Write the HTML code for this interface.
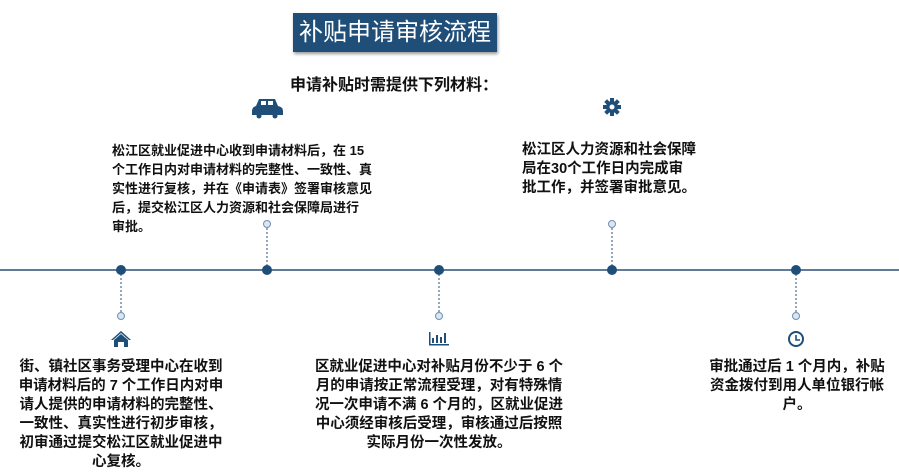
<!DOCTYPE html>
<html><head><meta charset="utf-8"><style>
body{margin:0;width:899px;height:475px;background:#fff;position:relative;overflow:hidden;font-family:"Liberation Sans","Noto Sans CJK SC",sans-serif;}
.t{position:absolute;font-weight:bold;color:#111;white-space:nowrap;line-height:19px;}
.title{position:absolute;left:293px;top:13px;width:204px;height:39px;background:#1f4e79;color:#fff;font-size:24px;text-align:center;line-height:39px;white-space:nowrap;box-shadow:1px 2px 3px rgba(0,0,0,.4);}
</style></head><body>
<div class="title">补贴申请审核流程</div>
<div class="t" style="left:290px;top:76px;width:204px;text-align:center;font-size:16px;">申请补贴时需提供下列材料：</div>
<svg width="899" height="475" style="position:absolute;left:0;top:0">
<line x1="0" y1="270" x2="899" y2="270" stroke="#2b4f78" stroke-width="1.5"/>
<g stroke="#2b4f78" stroke-width="1" stroke-dasharray="2,2">
<line x1="267" y1="228" x2="267" y2="270"/><line x1="612" y1="228" x2="612" y2="270"/>
<line x1="121" y1="270" x2="121" y2="312"/><line x1="439" y1="270" x2="439" y2="312"/><line x1="796" y1="270" x2="796" y2="312"/>
</g>
<g fill="#1f4e79"><circle cx="121" cy="270" r="5"/><circle cx="267" cy="270" r="5"/><circle cx="439" cy="270" r="5"/><circle cx="612" cy="270" r="5"/><circle cx="796" cy="270" r="5"/></g>
<g fill="#dbe6f2" stroke="#6f8fb3" stroke-width="1"><circle cx="267" cy="224" r="3.5"/><circle cx="612" cy="224" r="3.5"/><circle cx="121" cy="316" r="3.5"/><circle cx="439" cy="316" r="3.5"/><circle cx="796" cy="316" r="3.5"/></g>
<g fill="#1f4e79"><path d="M256 106 L259 99 H275 L278 106 Q283 107 283 111 V115 H252 V111 Q252 107 256 106Z"/><circle cx="259" cy="116" r="2.5"/><circle cx="275" cy="116" r="2.5"/><rect x="261" y="101" width="5" height="4" fill="#fff"/><rect x="268" y="101" width="5" height="4" fill="#fff"/></g>
<g transform="translate(612,107)" fill="#1f4e79"><circle r="6"/><g><rect x="-2" y="-9" width="4" height="18"/><rect x="-9" y="-2" width="18" height="4"/><rect x="-2" y="-9" width="4" height="18" transform="rotate(45)"/><rect x="-2" y="-9" width="4" height="18" transform="rotate(-45)"/></g><circle r="2.5" fill="#fff"/></g>
<g fill="#1f4e79"><path d="M111 340 L121 331 L131 340 L129 340 L121 333 L113 340Z"/><path d="M114 340 L121 334 L128 340 V347 H124 V342 H118 V347 H114Z"/></g>
<g fill="#1f4e79"><rect x="429" y="344" width="20" height="1.5"/><rect x="429" y="332" width="1.5" height="13"/><rect x="432" y="338" width="2" height="5"/><rect x="436" y="335" width="2" height="8"/><rect x="440" y="337" width="2" height="6"/><rect x="444" y="333" width="2" height="10"/></g>
<g><circle cx="796" cy="339" r="7" fill="none" stroke="#1f4e79" stroke-width="2"/><path d="M796 335 V340 H800" stroke="#1f4e79" stroke-width="1.6" fill="none"/></g>
</svg>
<div class="t" style="left:112px;top:141px;font-size:13px;">松江区就业促进中心收到申请材料后，在 15<br>个工作日内对申请材料的完整性、一致性、真<br>实性进行复核，并在《申请表》签署审核意见<br>后，提交松江区人力资源和社会保障局进行<br>审批。</div>
<div class="t" style="left:522px;top:141px;font-size:14.5px;">松江区人力资源和社会保障<br>局在30个工作日内完成审<br>批工作，并签署审批意见。</div>
<div class="t" style="left:6px;top:358px;width:230px;text-align:center;font-size:14.5px;">街、镇社区事务受理中心在收到<br>申请材料后的 7 个工作日内对申<br>请人提供的申请材料的完整性、<br>一致性、真实性进行初步审核，<br>初审通过提交松江区就业促进中<br>心复核。</div>
<div class="t" style="left:304px;top:358px;width:270px;text-align:center;font-size:14.5px;">区就业促进中心对补贴月份不少于 6 个<br>月的申请按正常流程受理，对有特殊情<br>况一次申请不满 6 个月的，区就业促进<br>中心须经审核后受理，审核通过后按照<br>实际月份一次性发放。</div>
<div class="t" style="left:692px;top:358px;width:210px;text-align:center;font-size:14.5px;">审批通过后 1 个月内，补贴<br>资金拨付到用人单位银行帐<br>户。</div>
</body></html>
